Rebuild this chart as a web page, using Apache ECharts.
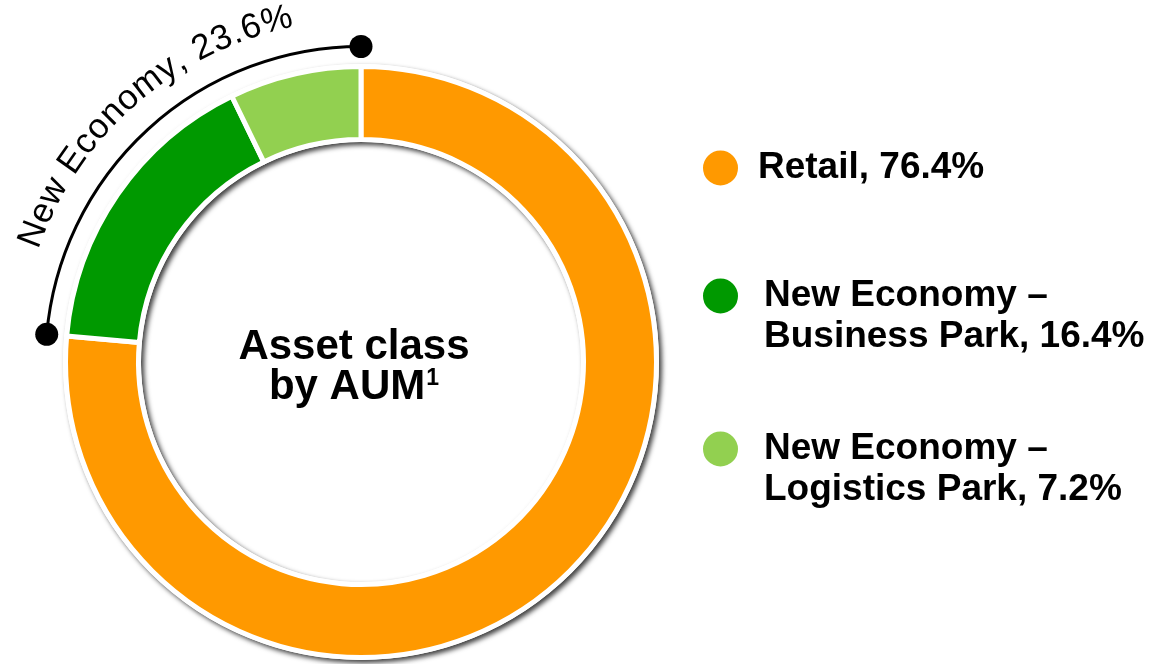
<!DOCTYPE html>
<html>
<head>
<meta charset="utf-8">
<script src="https://cdn.jsdelivr.net/npm/echarts@6/dist/echarts.min.js"></script>
<style>
  html, body { margin: 0; padding: 0; background: #fff; }
  #chart { width: 1153px; height: 664px; }
</style>
</head>
<body>
<div id="chart"></div>
<script>
// data
const categories = ['Retail', 'New Economy – Business Park', 'New Economy – Logistics Park']
const shares = [76.4, 16.4, 7.2]
const colors = ['#FF9900', '#009900', '#92D050']
// legend text, split in lines (share gets appended to the last line)
const legendLines = [['Retail'], ['New Economy –', 'Business Park'], ['New Economy –', 'Logistics Park']]
// bracket over the "New Economy" slices
const groupLabel = 'New Economy'
const groupMembers = [1, 2]
const centerLines = ['Asset class', 'by AUM']
const centerNote = '1'

const FONT = '"Liberation Sans", Arial, sans-serif'
const CX = 361, CY = 362

const chart = echarts.init(document.getElementById('chart'), null, { renderer: 'canvas' })

function legendText(name) {
  const i = categories.indexOf(name)
  const lines = legendLines[i].slice()
  lines[lines.length - 1] += ', ' + shares[i] + '%'
  // blank line above so the icon lines up with the first text line
  return (lines.length > 1 ? '\n' : '') + lines.join('\n')
}

// legend positions (one legend per item)
const legendTops = [147.5, 234.5, 387.5]
const legendPads = [14, 20, 20]

const option = {
  backgroundColor: '#fff',
  animation: false,
  legend: categories.map((c, i) => ({
    data: [c],
    left: 701,
    top: legendTops[i],
    padding: 0,
    icon: 'circle',
    itemWidth: 37,
    itemHeight: 37,
    selectedMode: false,
    formatter: legendText,
    textStyle: {
      fontFamily: FONT,
      fontWeight: 'bold',
      fontSize: 37,
      lineHeight: 41,
      color: '#000',
      padding: [0, 0, 0, legendPads[i]]
    }
  })),
  series: [
    // white ring under the slices, carries the drop shadow
    {
      type: 'pie',
      silent: true,
      center: [CX, CY],
      radius: [220, 298],
      label: { show: false },
      labelLine: { show: false },
      itemStyle: {
        color: '#fff',
        shadowColor: 'rgba(0,0,0,0.75)',
        shadowBlur: 5,
        shadowOffsetX: 3,
        shadowOffsetY: 3
      },
      data: [{ value: 1, name: '' }]
    },
    {
      type: 'pie',
      center: [CX, CY],
      radius: [222.5, 295.5],
      startAngle: 90,
      clockwise: true,
      avoidLabelOverlap: false,
      label: { show: false },
      labelLine: { show: false },
      emphasis: { scale: false },
      itemStyle: { borderColor: '#fff', borderWidth: 5 },
      data: categories.map((c, i) => ({
        name: c,
        value: shares[i],
        itemStyle: { color: colors[i] }
      }))
    }
  ]
}

chart.setOption(option)

// bracket arc + curved label, placed from the pie's own layout
const pieData = chart.getModel().getSeriesByIndex(1).getData()
const first = pieData.getItemLayout(groupMembers[0])
const last = pieData.getItemLayout(groupMembers[groupMembers.length - 1])
const a0 = first.startAngle
const a1 = last.endAngle
const cx = first.cx, cy = first.cy
const R = first.r + 20

const groupSum = groupMembers.reduce((s, i) => s + shares[i], 0)
const arcText = groupLabel + ', ' + groupSum.toFixed(1) + '%'

const fontSize = 35
const spacing = 1.2
const measure = document.createElement('canvas').getContext('2d')
measure.font = fontSize + 'px ' + FONT
const widths = Array.from(arcText).map(ch => measure.measureText(ch).width + spacing)
const total = widths.reduce((s, w) => s + w, 0)
const textR = R + 36
const mid = (a0 + a1) / 2 + 0.025
let cum = 0
const chars = []
Array.from(arcText).forEach((ch, k) => {
  const a = mid - total / 2 / textR + (cum + widths[k] / 2) / textR
  cum += widths[k]
  chars.push({
    type: 'text',
    x: cx + textR * Math.cos(a),
    y: cy + textR * Math.sin(a),
    rotation: -(a + Math.PI / 2),
    style: {
      text: ch,
      font: fontSize + 'px ' + FONT,
      fill: '#000',
      align: 'center',
      verticalAlign: 'middle'
    }
  })
})

const dot = a => ({
  type: 'circle',
  shape: { cx: cx + R * Math.cos(a), cy: cy + R * Math.sin(a), r: 11.5 },
  style: { fill: '#000' }
})

chart.setOption({
  graphic: [
    {
      type: 'arc',
      shape: { cx: cx, cy: cy, r: R, startAngle: a0, endAngle: a1, clockwise: true },
      style: { stroke: '#000', lineWidth: 3, fill: null }
    },
    dot(a0),
    dot(a1),
    ...chars,
    {
      type: 'text',
      x: 354,
      y: 367,
      style: {
        text: centerLines[0] + '\n' + centerLines[1] + '{sup|' + centerNote + '}',
        font: 'bold 42px ' + FONT,
        lineHeight: 40,
        fill: '#000',
        align: 'center',
        verticalAlign: 'middle',
        rich: {
          sup: {
            fontFamily: FONT,
            fontWeight: 'bold',
            fontSize: 23,
            lineHeight: 40,
            verticalAlign: 'top',
            padding: [0, 0, 14, 1]
          }
        }
      }
    }
  ]
})

window.addEventListener('resize', chart.resize)
</script>
</body>
</html>
